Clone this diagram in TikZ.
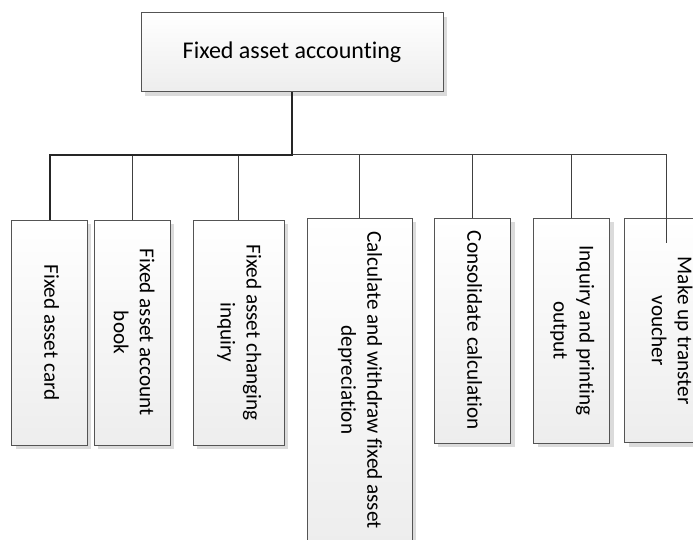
\documentclass[tikz,border=0pt]{standalone}
\usepackage{fontspec}
\setmainfont{Carlito}[Ligatures=NoCommon]
\usepackage{tikz}
\usetikzlibrary{shadows}
\definecolor{boxline}{rgb}{0.33,0.33,0.33}
\definecolor{boxshade}{rgb}{0.93,0.93,0.93}
\definecolor{linkcol}{rgb}{0.25,0.25,0.25}
\newcommand{\vtext}[1]{\rotatebox{-90}{\fontsize{21.2}{26}\selectfont\begin{tabular}{@{}c@{}}#1\end{tabular}}}

\begin{document}
\begin{tikzpicture}[x=1pt,y=-1pt,
		topbox/.style={draw=boxline, line width=1pt, top color=white, bottom color=boxshade,
			drop shadow={shadow xshift=4pt, shadow yshift=-4pt, fill=black!14, opacity=1},
			inner sep=0pt, minimum width=302pt, minimum height=79pt,
			font=\fontsize{24}{29}\selectfont},
		itembox/.style={draw=boxline, line width=1pt, top color=white, bottom color=boxshade,
			drop shadow={shadow xshift=4pt, shadow yshift=-4pt, fill=black!14, opacity=1},
			inner sep=0pt, minimum height=225pt},
		mainlink/.style={draw=black!85, line width=2pt},
		link/.style={draw=linkcol, line width=1pt}]
	
	\useasboundingbox (0,0) rectangle (693,540);
	\clip (0,0) rectangle (693,540);
	
	% Boîte principale
	\node[topbox] (root) at (292,52.5) {Fixed asset accounting};
	
	% Boîtes des modules
	\node[itembox, minimum width=75.6pt] (card) at (49.5,332.5) {\vtext{Fixed asset card}};
	\node[itembox, minimum width=76pt] (book) at (132,332.5) {\vtext{Fixed asset account\\book}};
	\node[itembox, minimum width=91pt] (change) at (238.8,332.5) {\vtext{Fixed asset changing\\inquiry}};
	\node[itembox, minimum width=105pt, minimum height=324pt] (deprec) at (359.5,380) {\vtext{Calculate and withdraw fixed asset\\depreciation}};
	\node[itembox, minimum width=76.4pt] (consol) at (472.5,330.5) {\vtext{Consolidate calculation}};
	\node[itembox, minimum width=76pt] (output) at (571.7,330.5) {\vtext{Inquiry and printing\\output}};
	\node[itembox, minimum width=91pt, minimum height=224pt] (voucher) at (670,330.7) {\vtext{Make up transter\\voucher}};
	
	% Points de la barre horizontale
	\coordinate (bus) at (292,155);
	\coordinate (vend) at (666.7,243);
	
	% Liaisons
	\draw[link] (bus) -| (vend);
	\draw[link] (book.north) -- (book.north |- bus);
	\draw[link] (change.north) -- (change.north |- bus);
	\draw[link] (deprec.north) -- (deprec.north |- bus);
	\draw[link] (consol.north) -- (consol.north |- bus);
	\draw[link] (output.north) -- (output.north |- bus);
	\draw[mainlink] (root.south) -- (bus) -| (card.north);
	
\end{tikzpicture}
\end{document}
